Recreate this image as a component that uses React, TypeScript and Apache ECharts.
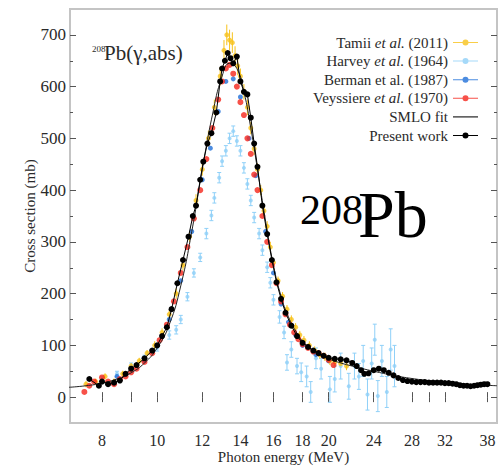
import React, { useEffect, useRef } from "react";
import * as echarts from "echarts";

// ---- axis ticks ----
const xTickLabels = [8, 10, 12, 14, 16, 18, 20, 24, 28, 32, 38];
const xTickMarks = [8, 9, 10, 12, 14, 16, 18, 20, 24, 28, 30, 32, 38];
const yTickLabels = [0, 100, 200, 300, 400, 500, 600, 700];
const yMinorTicks = [50, 150, 250, 350, 450, 550, 650];

// ---- data: [energy MeV, cross section mb, error] ----
const tamii: [number, number, number][] = [
  [7.5, 25, 6], [7.8, 30, 6], [8.1, 40, 6], [8.4, 30, 6], [8.7, 45, 6], [9.0, 60, 6],
  [9.3, 70, 6], [9.6, 85, 6], [9.9, 100, 8], [10.2, 125, 8], [10.5, 160, 8], [10.8, 200, 10],
  [11.1, 255, 10], [11.4, 310, 10], [11.7, 380, 12], [12.0, 440, 12], [12.3, 500, 15],
  [12.6, 560, 15], [12.9, 620, 18], [13.1, 670, 20], [13.25, 700, 20], [13.4, 690, 20],
  [13.55, 685, 20], [13.7, 660, 18], [13.85, 640, 18], [14.0, 620, 15], [14.2, 590, 15],
  [14.4, 560, 15], [14.6, 520, 12], [14.8, 480, 12], [15.0, 440, 12], [15.2, 400, 10],
  [15.4, 360, 10], [15.6, 330, 10], [15.8, 290, 10], [16.0, 260, 8], [16.3, 225, 8],
  [16.6, 195, 8], [16.9, 170, 8], [17.2, 150, 8], [17.5, 135, 8], [17.8, 120, 8],
  [18.1, 110, 8], [18.5, 100, 8], [18.9, 90, 8], [19.3, 82, 8], [19.7, 78, 8],
  [20.1, 70, 8], [20.5, 68, 8], [21.0, 65, 8], [21.5, 60, 8],
];

const harvey: [number, number, number][] = [
  [8.0, 35, 5], [8.5, 45, 5], [9.0, 60, 6], [9.5, 75, 6], [10.0, 95, 6], [10.5, 120, 8],
  [10.8, 130, 8], [11.0, 150, 8], [11.3, 194, 8], [11.6, 240, 8], [11.9, 270, 8],
  [12.2, 316, 10], [12.45, 351, 10], [12.6, 385, 10], [12.85, 424, 10], [13.0, 456, 10],
  [13.2, 476, 10], [13.4, 500, 10], [13.6, 514, 10], [13.8, 495, 10], [14.0, 476, 10],
  [14.2, 443, 10], [14.4, 412, 10], [14.6, 380, 10], [14.8, 347, 10], [15.1, 316, 10],
  [15.3, 284, 10], [15.6, 251, 10], [15.8, 221, 10], [16.0, 188, 10], [16.4, 155, 12],
  [16.7, 125, 12], [16.9, 67, 15], [17.2, 92, 15], [17.6, 60, 15], [17.9, 48, 18],
  [18.3, 40, 20], [18.6, 10, 20], [19.0, 75, 20], [19.4, 55, 20], [20.1, 15, 25],
  [20.5, 35, 25], [21.0, 60, 25], [21.7, 21, 25], [22.2, 60, 25], [22.6, 40, 25],
  [23.0, 70, 30], [23.4, 5, 30], [23.8, 65, 30], [24.1, 111, 30], [24.4, 2, 30],
  [24.8, 70, 30], [25.3, 10, 30], [25.7, 92, 40], [26.1, 60, 40],
];

const berman: [number, number][] = [
  [8.5, 40], [9.5, 70], [10.5, 150], [11.0, 225], [11.5, 320], [12.0, 420], [12.4, 481],
  [12.8, 552], [13.2, 610], [13.6, 615], [14.0, 580], [14.5, 500], [14.9, 428], [15.5, 320],
  [16.0, 240], [16.5, 180], [17.0, 145], [17.5, 120], [18.0, 100], [19.0, 82], [20.0, 70],
];

const veyssiere: [number, number][] = [
  [7.45, 10], [7.6, 22], [7.75, 30], [8.0, 38], [8.2, 30], [8.4, 25], [8.6, 35], [8.8, 40],
  [9.0, 48], [9.2, 55], [9.5, 68], [9.8, 85], [10.1, 110], [10.4, 140], [10.7, 185],
  [11.0, 240], [11.3, 290], [11.6, 345], [11.9, 400], [12.2, 460], [12.5, 520], [12.8, 575],
  [13.0, 610], [13.2, 635], [13.4, 642], [13.6, 625], [13.8, 600], [14.0, 570], [14.2, 545],
  [14.4, 500], [14.6, 470], [14.8, 430], [15.0, 400], [15.3, 350], [15.6, 300], [15.9, 255],
  [16.2, 220], [16.5, 185], [16.8, 160], [17.1, 140], [17.4, 125], [17.7, 112], [18.0, 102],
  [18.4, 95], [18.8, 88], [19.2, 85], [19.6, 80], [20.0, 72], [20.4, 62],
];

const smloFit: [number, number][] = [
  [7.0, 19], [7.5, 22], [8.0, 27], [8.5, 35], [9.0, 47], [9.5, 66], [10.0, 95], [10.5, 140],
  [11.0, 215], [11.5, 320], [12.0, 440], [12.5, 545], [13.0, 620], [13.4, 645], [13.8, 635],
  [14.2, 590], [14.6, 520], [15.0, 440], [15.5, 340], [16.0, 255], [16.5, 195], [17.0, 155],
  [17.5, 128], [18.0, 108], [19.0, 86], [20.0, 74], [21.0, 66], [22.0, 60], [24.0, 50],
  [26.0, 42], [28.0, 36], [30.0, 32], [34.0, 26], [39.5, 22],
];

const presentWork: [number, number][] = [
  [7.6, 35], [7.9, 22], [8.0, 30], [8.2, 25], [8.4, 28], [8.6, 32], [8.8, 45], [9.0, 55],
  [9.2, 62], [9.5, 75], [9.8, 90], [10.0, 100], [10.2, 118], [10.4, 135], [10.6, 170],
  [10.85, 220], [11.1, 265], [11.35, 310], [11.55, 350], [11.7, 370], [11.9, 420],
  [12.05, 455], [12.25, 490], [12.45, 510], [12.7, 550], [12.9, 610], [13.0, 635],
  [13.15, 650], [13.3, 665], [13.45, 655], [13.6, 645], [13.8, 658], [14.0, 610],
  [14.2, 590], [14.4, 585], [14.6, 540], [14.8, 490], [15.0, 445], [15.3, 370], [15.6, 315],
  [15.9, 265], [16.2, 222], [16.5, 190], [16.8, 163], [17.2, 138], [17.6, 118], [18.0, 105],
  [18.4, 97], [18.8, 90], [19.2, 85], [19.6, 80], [20.0, 76], [20.5, 74], [21.0, 73],
  [21.5, 71], [22.0, 66], [22.4, 60], [22.8, 52], [23.1, 45], [23.5, 46], [24.0, 52],
  [24.5, 55], [25.0, 52], [25.5, 47], [26.0, 42], [26.5, 37], [27.0, 33], [27.5, 31],
  [28.0, 30], [28.5, 29], [29.0, 29], [29.5, 29], [30.0, 28], [30.5, 28], [31.0, 28],
  [31.5, 28], [32.0, 27], [32.5, 27], [33.0, 26], [33.5, 25], [34.0, 23], [34.5, 22],
  [35.0, 22], [35.5, 21], [36.0, 22], [36.5, 23], [37.0, 24], [37.5, 25], [38.0, 25],
];

const COLORS = {
  tamii: "#f7c21a",
  harvey: "#8fd0f8",
  berman: "#1f6fd8",
  veyssiere: "#f5251b",
  black: "#000000",
};

const SERIF = "Liberation Serif";
const TEXT = "#2a2a2a";
const lx = (e: number) => Math.log(e);

function errorBars(name: string, rows: [number, number, number][], color: string, cap: boolean) {
  return {
    type: "custom",
    name,
    silent: true,
    clip: true,
    z: 1,
    data: rows.map((r) => [lx(r[0]), r[1] - r[2], r[1] + r[2]]),
    encode: { x: 0, y: [1, 2] },
    renderItem: (params: any, api: any) => {
      const x = api.value(0);
      const lo = api.coord([x, api.value(1)]);
      const hi = api.coord([x, api.value(2)]);
      const children: any[] = [
        { type: "line", shape: { x1: lo[0], y1: lo[1], x2: hi[0], y2: hi[1] }, style: { stroke: color, lineWidth: 1 } },
      ];
      if (cap) {
        children.push(
          { type: "line", shape: { x1: lo[0] - 2, y1: lo[1], x2: lo[0] + 2, y2: lo[1] }, style: { stroke: color, lineWidth: 1 } },
          { type: "line", shape: { x1: hi[0] - 2, y1: hi[1], x2: hi[0] + 2, y2: hi[1] }, style: { stroke: color, lineWidth: 1 } }
        );
      }
      return { type: "group", children };
    },
  };
}

const dotIcon = "path://M0,3.5h25v1h-25z M15.5,4a3,3 0 1 1 -6,0a3,3 0 1 1 6,0z";
const lineIcon = "path://M0,0h25v1.2h-25z";

export default function App() {
  const ref = useRef<HTMLDivElement>(null);
  useEffect(() => {
    document.body.style.margin = "0";
    const chart = echarts.init(ref.current!, null, { renderer: "svg" });
    const xMin = lx(7.03);
    const xMax = lx(39.5);
    const yMin = -50;
    const yMax = 750;
    const tickStyle = { color: "#555", width: 1 };

    const legendNames: Record<string, string> = {
      "Tamii et al. (2011)": "{n|Tamii }{i|et al.}{n| (2011)}",
      "Harvey et al. (1964)": "{n|Harvey }{i|et al.}{n| (1964)}",
      "Berman et al. (1987)": "{n|Berman et al. (1987)}",
      "Veyssiere et al. (1970)": "{n|Veyssiere }{i|et al.}{n| (1970)}",
      "SMLO fit": "{n|SMLO fit}",
      "Present work": "{n|Present work}",
    };

    chart.setOption({
      animation: false,
      backgroundColor: "#ffffff",
      textStyle: { fontFamily: SERIF },
      grid: {
        left: 70,
        top: 9,
        width: 427,
        height: 414,
        containLabel: false,
        outerBoundsMode: "none",
        show: true,
        borderColor: "#c4c4c4",
        borderWidth: 2,
        backgroundColor: "transparent",
      },
      legend: {
        orient: "vertical",
        right: 19,
        top: 30,
        align: "right",
        itemWidth: 25,
        itemHeight: 8,
        itemGap: 3.6,
        selectedMode: false,
        textStyle: {
          fontFamily: SERIF,
          fontSize: 15,
          color: TEXT,
          rich: {
            n: { fontFamily: SERIF, fontSize: 15, color: TEXT, lineHeight: 16 },
            i: { fontFamily: SERIF, fontSize: 15, color: TEXT, fontStyle: "italic", lineHeight: 16 },
          },
        },
        formatter: (name: string) => legendNames[name] || name,
        data: [
          { name: "Tamii et al. (2011)", icon: dotIcon },
          { name: "Harvey et al. (1964)", icon: dotIcon },
          { name: "Berman et al. (1987)", icon: dotIcon },
          { name: "Veyssiere et al. (1970)", icon: dotIcon },
          { name: "SMLO fit", icon: lineIcon },
          { name: "Present work", icon: dotIcon },
        ],
      },
      xAxis: [
        {
          type: "value",
          position: "bottom",
          min: xMin,
          max: xMax,
          splitLine: { show: false },
          axisLine: { show: false },
          axisTick: { show: true, inside: true, length: 5, lineStyle: tickStyle, customValues: xTickMarks.map(lx) },
          axisLabel: {
            customValues: xTickLabels.map(lx),
            formatter: (v: number) => String(Math.round(Math.exp(v))),
            fontFamily: SERIF,
            fontSize: 16,
            color: TEXT,
            margin: 9,
          },
          name: "Photon energy (MeV)",
          nameLocation: "middle",
          nameGap: 26,
          nameMoveOverlap: false,
          nameTextStyle: { fontFamily: SERIF, fontSize: 15, color: TEXT },
        },
        {
          type: "value",
          position: "top",
          min: xMin,
          max: xMax,
          splitLine: { show: false },
          axisLine: { show: false },
          axisLabel: { show: false },
          axisTick: { show: true, inside: true, length: 5, lineStyle: tickStyle, customValues: xTickMarks.map(lx) },
        },
      ],
      yAxis: [
        {
          type: "value",
          position: "left",
          min: yMin,
          max: yMax,
          splitLine: { show: false },
          axisLine: { show: false },
          axisTick: { show: true, inside: true, length: 6, lineStyle: tickStyle, customValues: yTickLabels },
          axisLabel: {
            customValues: yTickLabels,
            fontFamily: SERIF,
            fontSize: 17,
            color: TEXT,
            margin: 4,
          },
          name: "Cross section (mb)",
          nameLocation: "middle",
          nameGap: 33,
          nameRotate: 90,
          nameMoveOverlap: false,
          nameTextStyle: { fontFamily: SERIF, fontSize: 15, color: TEXT },
        },
        {
          type: "value",
          position: "left",
          min: yMin,
          max: yMax,
          splitLine: { show: false },
          axisLine: { show: false },
          axisLabel: { show: false },
          axisTick: { show: true, inside: true, length: 3, lineStyle: tickStyle, customValues: yMinorTicks },
        },
        {
          type: "value",
          position: "right",
          min: yMin,
          max: yMax,
          splitLine: { show: false },
          axisLine: { show: false },
          axisLabel: { show: false },
          axisTick: { show: true, inside: true, length: 6, lineStyle: tickStyle, customValues: yTickLabels },
        },
        {
          type: "value",
          position: "right",
          min: yMin,
          max: yMax,
          splitLine: { show: false },
          axisLine: { show: false },
          axisLabel: { show: false },
          axisTick: { show: true, inside: true, length: 3, lineStyle: tickStyle, customValues: yMinorTicks },
        },
      ],
      graphic: [
        { type: "text", left: 92, top: 44, style: { text: "208", fontFamily: SERIF, fontSize: 9, fill: TEXT } },
        { type: "text", left: 104, top: 42, style: { text: "Pb(γ,abs)", fontFamily: SERIF, fontSize: 21, fill: TEXT } },
        { type: "text", left: 300, top: 189, style: { text: "208", fontFamily: SERIF, fontSize: 42, fill: "#000" } },
        { type: "text", left: 358, top: 181, style: { text: "Pb", fontFamily: SERIF, fontSize: 66, fill: "#000" } },
      ],
      series: [
        errorBars("Harvey err", harvey, COLORS.harvey, true),
        {
          type: "scatter",
          name: "Harvey et al. (1964)",
          data: harvey.map((r) => [lx(r[0]), r[1]]),
          symbol: "circle",
          symbolSize: 4,
          itemStyle: { color: COLORS.harvey },
          z: 2,
        },
        {
          type: "scatter",
          name: "Berman et al. (1987)",
          data: berman.map((r) => [lx(r[0]), r[1]]),
          symbol: "circle",
          symbolSize: 5,
          itemStyle: { color: COLORS.berman },
          z: 3,
        },
        errorBars("Tamii err", tamii, COLORS.tamii, false),
        {
          type: "scatter",
          name: "Tamii et al. (2011)",
          data: tamii.map((r) => [lx(r[0]), r[1]]),
          symbol: "circle",
          symbolSize: 5,
          itemStyle: { color: COLORS.tamii },
          z: 4,
        },
        {
          type: "scatter",
          name: "Veyssiere et al. (1970)",
          data: veyssiere.map((r) => [lx(r[0]), r[1]]),
          symbol: "circle",
          symbolSize: 6,
          itemStyle: { color: COLORS.veyssiere },
          z: 5,
        },
        {
          type: "line",
          name: "SMLO fit",
          data: smloFit.map((r) => [lx(r[0]), r[1]]),
          smooth: true,
          showSymbol: false,
          symbol: "none",
          lineStyle: { color: "#222", width: 1 },
          itemStyle: { color: "#222" },
          z: 6,
        },
        {
          type: "line",
          name: "Present work",
          data: presentWork.map((r) => [lx(r[0]), r[1]]),
          symbol: "circle",
          symbolSize: 6,
          showAllSymbol: true,
          lineStyle: { color: "#000", width: 1 },
          itemStyle: { color: "#000" },
          z: 7,
        },
      ],
    });
    return () => chart.dispose();
  }, []);
  return <div ref={ref} style={{ width: 502, height: 467 }} />;
}
